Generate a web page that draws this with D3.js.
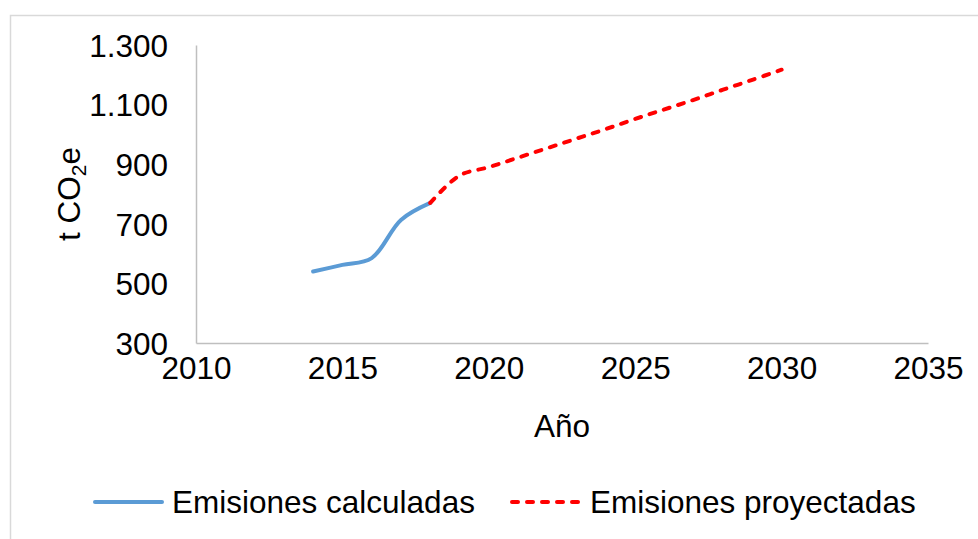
<!DOCTYPE html>
<html>
<head>
<meta charset="utf-8">
<script src="https://cdn.jsdelivr.net/npm/d3@7/dist/d3.min.js"></script>
<style>
  html, body { margin: 0; padding: 0; background: #ffffff; }
  svg { display: block; font-family: "Liberation Sans", Arial, sans-serif; }
</style>
</head>
<body>
<svg id="chart" width="978" height="539"></svg>
<script>
// Emission series (t CO2e per year)
const calcYears = [2014, 2015, 2016, 2017, 2018];
const calcValues = [540, 562, 585, 713, 770];

const projYears = [2018, 2019, 2020, 2021, 2022, 2023, 2024, 2025, 2026, 2027, 2028, 2029, 2030];
const projValues = [770, 862, 890, 922, 954, 986, 1018, 1052, 1084, 1116, 1150, 1183, 1217];

const xTicks = [2010, 2015, 2020, 2025, 2030, 2035];
const yTicks = [300, 500, 700, 900, 1100, 1300];

const seriesNames = ["Emisiones calculadas", "Emisiones proyectadas"];

const svg = d3.select("#chart");
const W = 978, H = 539;
const margin = { left: 196, right: 50, top: 45, bottom: 196 };
const FS = 31.5;

// chart frame
svg.append("rect")
  .attr("x", 10.5).attr("y", 15.5)
  .attr("width", 975).attr("height", 540)
  .attr("fill", "#ffffff")
  .attr("stroke", "#d9d9d9").attr("stroke-width", 1.5);

const x = d3.scaleLinear().domain([2010, 2035]).range([margin.left, W - margin.right]);
const y = d3.scaleLinear().domain([300, 1300]).range([H - margin.bottom, margin.top]);

const fmt = d3.formatLocale({ decimal: ",", thousands: ".", grouping: [3], currency: ["", ""] }).format(",d");

// axes
const xAxis = svg.append("g")
  .attr("transform", `translate(0,${y(300)})`)
  .call(d3.axisBottom(x).tickValues(xTicks).tickSize(0).tickPadding(14).tickFormat(d => d));
const yAxis = svg.append("g")
  .attr("transform", `translate(${x(2010)},0)`)
  .call(d3.axisLeft(y).tickValues(yTicks).tickSize(0).tickPadding(28).tickFormat(fmt));

[xAxis, yAxis].forEach(g => {
  g.select(".domain").attr("stroke", "#bfbfbf").attr("stroke-width", 1.5);
  g.selectAll("text").attr("font-size", FS).attr("fill", "#000").attr("font-family", "Liberation Sans, Arial, sans-serif");
});
xAxis.selectAll("text").attr("dy", "0.71em");
yAxis.selectAll("text").attr("dy", "0.36em");

// axis titles
svg.append("text")
  .attr("x", (x(2010) + x(2035)) / 2).attr("y", 437)
  .attr("text-anchor", "middle").attr("font-size", FS).attr("fill", "#000")
  .text("Año");

const yTitle = svg.append("text")
  .attr("transform", `translate(80,${194}) rotate(-90)`)
  .attr("text-anchor", "middle").attr("font-size", FS).attr("fill", "#000");
yTitle.append("tspan").text("t CO");
yTitle.append("tspan").attr("font-size", 21).attr("dy", 6).text("2");
yTitle.append("tspan").attr("dy", -6).text("e");

// lines
const line = d3.line()
  .x(d => x(d[0]))
  .y(d => y(d[1]))
  .curve(d3.curveCatmullRom.alpha(0.5));

svg.append("path")
  .datum(calcYears.map((yr, i) => [yr, calcValues[i]]))
  .attr("d", line)
  .attr("fill", "none")
  .attr("stroke", "#5b9bd5").attr("stroke-width", 4)
  .attr("stroke-linecap", "round").attr("stroke-linejoin", "round");

svg.append("path")
  .datum(projYears.map((yr, i) => [yr, projValues[i]]))
  .attr("d", line)
  .attr("fill", "none")
  .attr("stroke", "#ff0000").attr("stroke-width", 4)
  .attr("stroke-dasharray", "6,9")
  .attr("stroke-linecap", "round").attr("stroke-linejoin", "round");

// legend
const legend = svg.append("g");
const items = [
  { name: seriesNames[0], color: "#5b9bd5", dash: null, x0: 95, x1: 162, tx: 172 },
  { name: seriesNames[1], color: "#ff0000", dash: "6,9", x0: 512, x1: 580, tx: 590 }
];
items.forEach(it => {
  legend.append("line")
    .attr("x1", it.x0).attr("x2", it.x1).attr("y1", 502).attr("y2", 502)
    .attr("stroke", it.color).attr("stroke-width", 4)
    .attr("stroke-linecap", "round")
    .attr("stroke-dasharray", it.dash);
  legend.append("text")
    .attr("x", it.tx).attr("y", 513)
    .attr("font-size", FS).attr("fill", "#000")
    .text(it.name);
});
</script>
</body>
</html>
